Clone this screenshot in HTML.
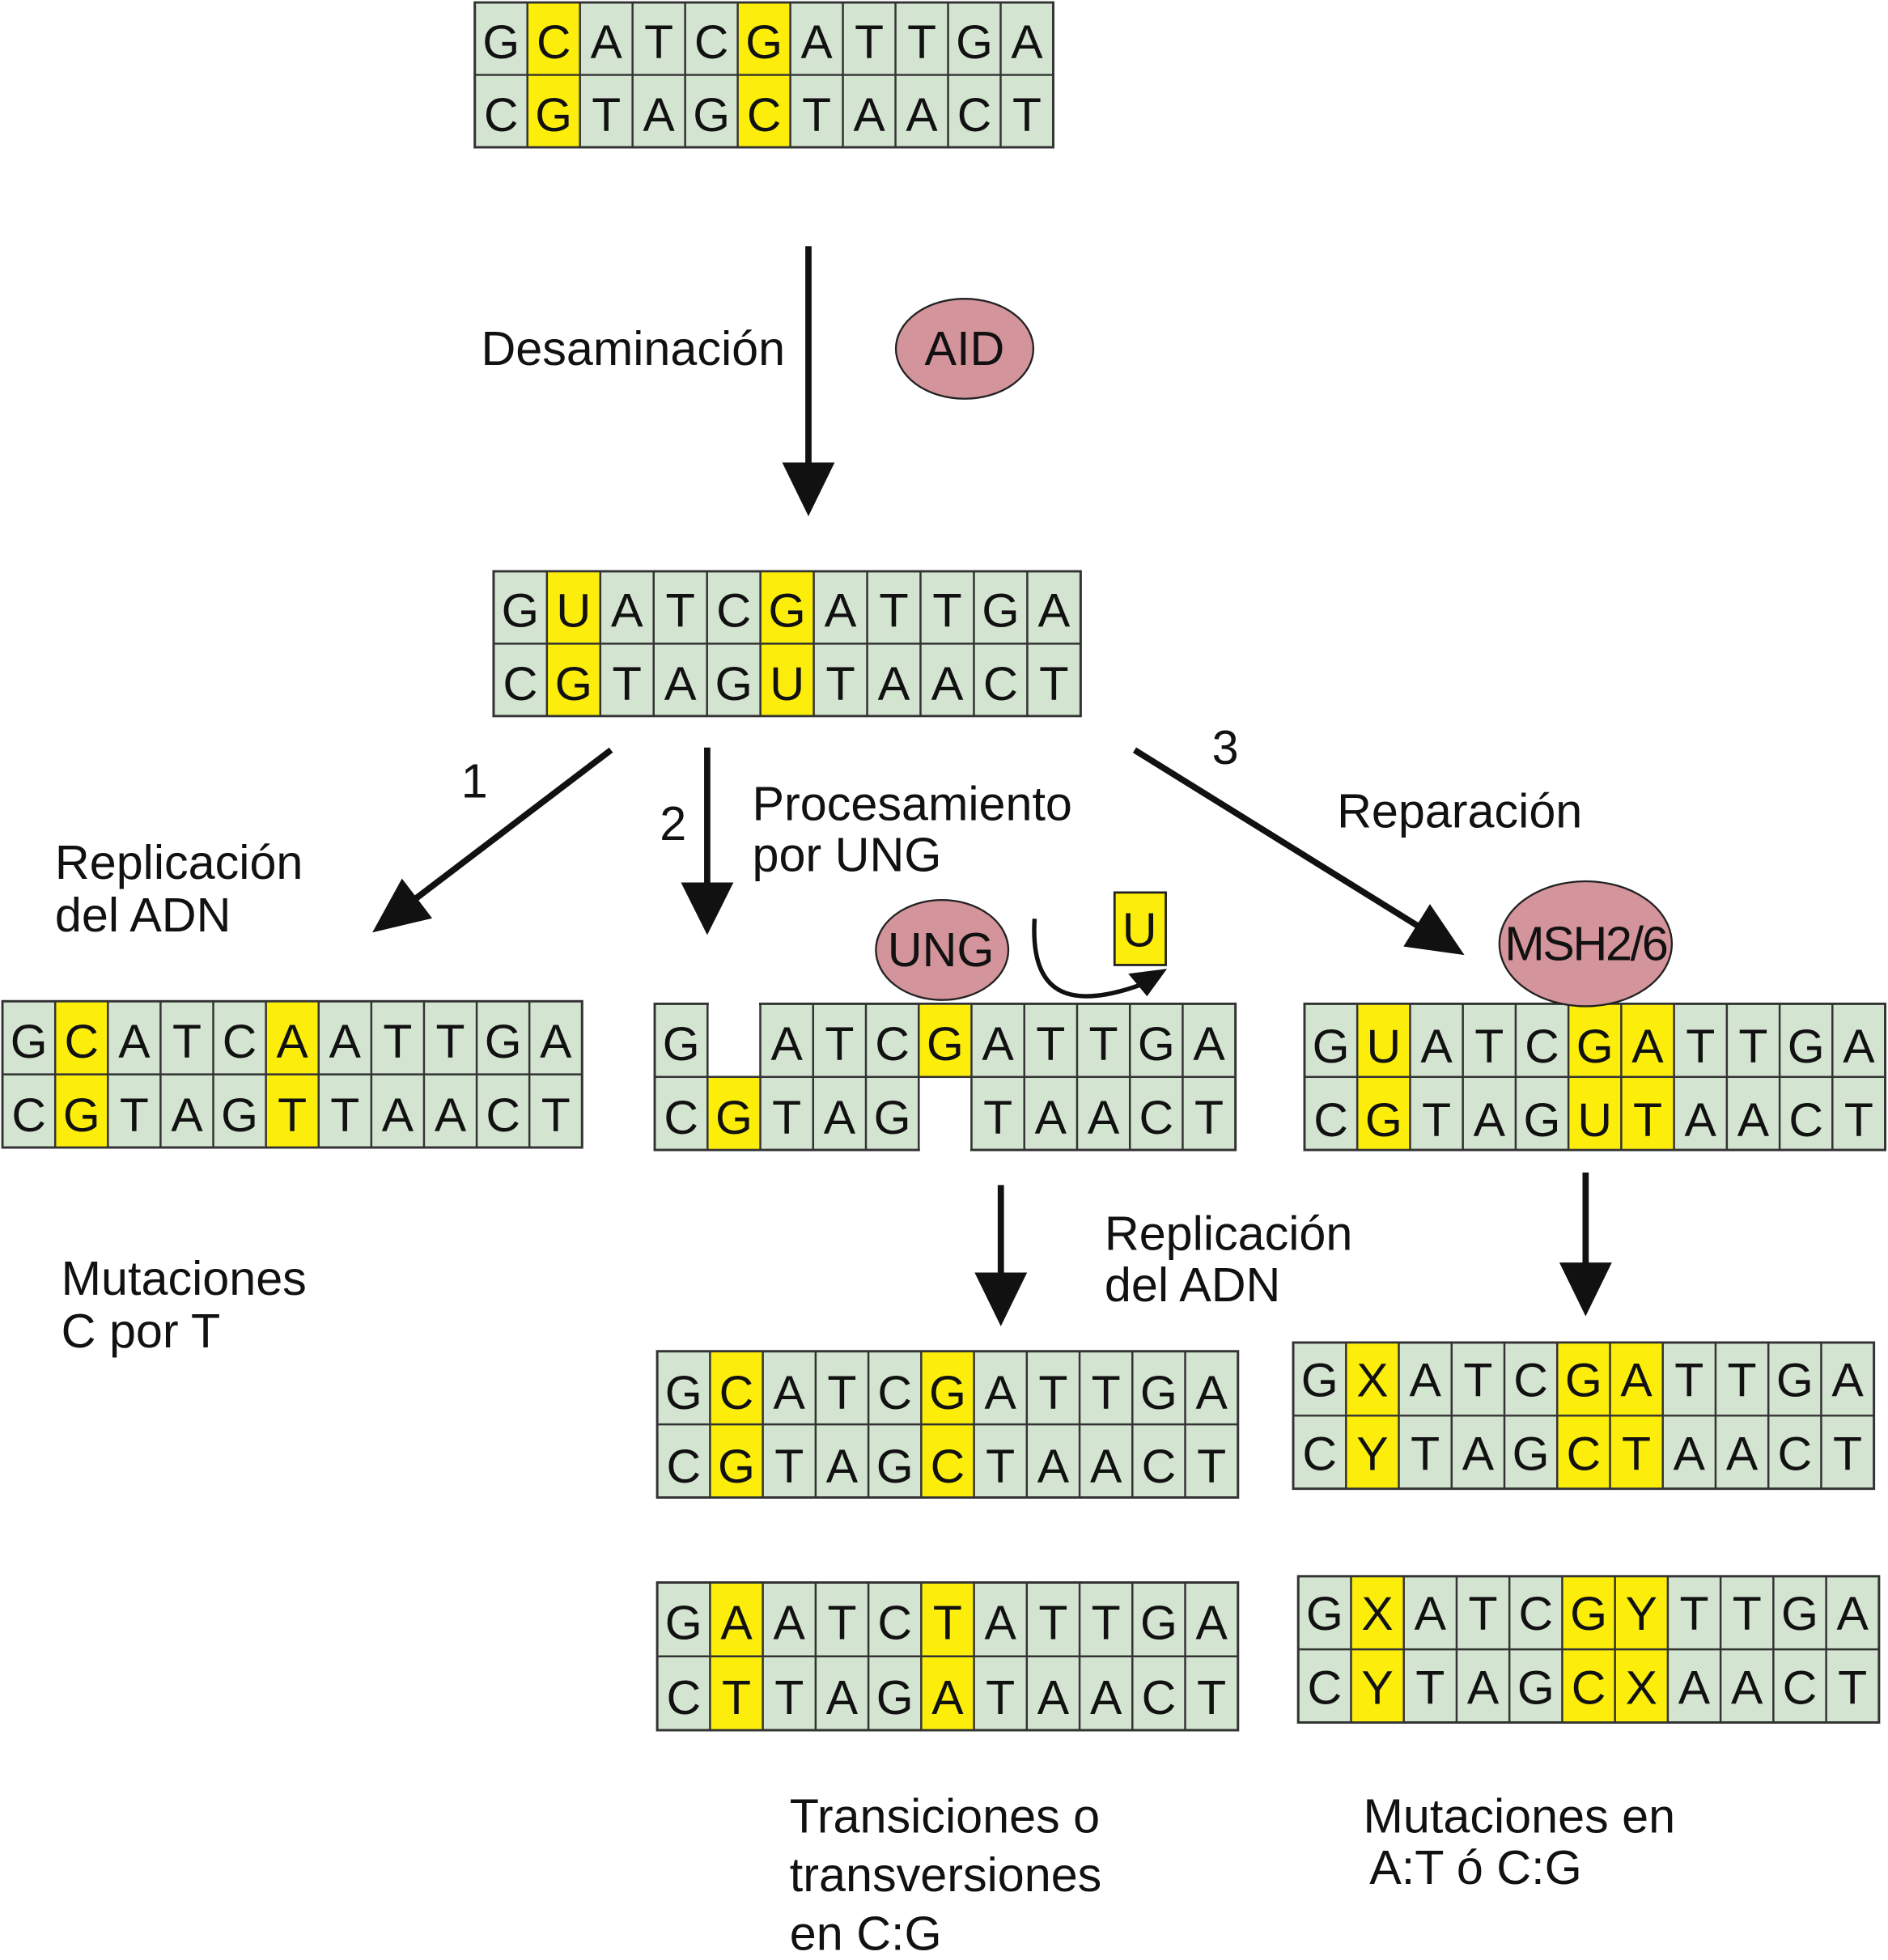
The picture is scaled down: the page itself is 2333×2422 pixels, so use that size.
<!DOCTYPE html>
<html><head><meta charset="utf-8"><style>html,body{margin:0;padding:0;background:#fff}svg{display:block}</style></head>
<body>
<svg width="2333" height="2422" viewBox="0 0 1511 1568" preserveAspectRatio="none" xmlns="http://www.w3.org/2000/svg" font-family="Liberation Sans, Arial, sans-serif">
<defs>
<path id="vl" d="M42 0V117M84 0V117M126 0V117M168 0V117M210 0V117M252 0V117M294 0V117M336 0V117M378 0V117M420 0V117M0 58.5H462" stroke="#333" stroke-width="1.6" fill="none"/>
</defs>
<style>.g{fill:#d3e4d1;stroke:#333;stroke-width:1.8}.y{fill:#fcee0a}.t{font-size:38px;text-anchor:middle;fill:#111}.l{font-size:38.4px;fill:#111}</style>

<!-- G1 -->
<g transform="translate(380,2) scale(1.002,0.99)">
<rect class="g" x="0" y="0" width="462" height="117"/>
<rect class="y" x="42" y="0" width="42" height="117"/><rect class="y" x="210" y="0" width="42" height="117"/>
<use href="#vl"/><rect x="0" y="0" width="462" height="117" fill="none" stroke="#333" stroke-width="1.8"/>
<text class="t" x="21 63 105 147 189 231 273 315 357 399 441" y="45">GCATCGATTGA</text>
<text class="t" x="21 63 105 147 189 231 273 315 357 399 441" y="104">CGTAGCTAACT</text>
</g>
<!-- G2 -->
<g transform="translate(395,457) scale(1.017,0.99)">
<rect class="g" x="0" y="0" width="462" height="117"/>
<rect class="y" x="42" y="0" width="42" height="117"/><rect class="y" x="210" y="0" width="42" height="117"/>
<use href="#vl"/><rect x="0" y="0" width="462" height="117" fill="none" stroke="#333" stroke-width="1.8"/>
<text class="t" x="21 63 105 147 189 231 273 315 357 399 441" y="45">GUATCGATTGA</text>
<text class="t" x="21 63 105 147 189 231 273 315 357 399 441" y="104">CGTAGUTAACT</text>
</g>
<!-- G3 -->
<g transform="translate(2,801) scale(1.004,1)">
<rect class="g" x="0" y="0" width="462" height="117"/>
<rect class="y" x="42" y="0" width="42" height="117"/><rect class="y" x="210" y="0" width="42" height="117"/>
<use href="#vl"/><rect x="0" y="0" width="462" height="117" fill="none" stroke="#333" stroke-width="1.8"/>
<text class="t" x="21 63 105 147 189 231 273 315 357 399 441" y="45">GCATCAATTGA</text>
<text class="t" x="21 63 105 147 189 231 273 315 357 399 441" y="104">CGTAGTTAACT</text>
</g>
<!-- G4 -->
<g transform="translate(524,803) scale(1.006,1)">
<rect class="g" x="0" y="0" width="462" height="117"/>
<rect class="y" x="42" y="58.5" width="42" height="58.5"/><rect class="y" x="210" y="0" width="42" height="58.5"/>
<use href="#vl"/><rect x="0" y="0" width="462" height="117" fill="none" stroke="#333" stroke-width="1.8"/>
<rect x="43" y="-3" width="40" height="60.5" fill="#fff"/>
<rect x="211" y="59.5" width="40" height="60" fill="#fff"/>
<text class="t" x="21 105 147 189 231 273 315 357 399 441" y="45">GATCGATTGA</text>
<text class="t" x="21 63 105 147 189 273 315 357 399 441" y="104">CGTAGTAACT</text>
</g>
<!-- G5 -->
<g transform="translate(1044,803) scale(1.006,1)">
<rect class="g" x="0" y="0" width="462" height="117"/>
<rect class="y" x="42" y="0" width="42" height="117"/><rect class="y" x="210" y="0" width="84" height="117"/>
<use href="#vl"/><rect x="0" y="0" width="462" height="117" fill="none" stroke="#333" stroke-width="1.8"/>
<text class="t" x="21 63 105 147 189 231 273 315 357 399 441" y="47">GUATCGATTGA</text>
<text class="t" x="21 63 105 147 189 231 273 315 357 399 441" y="106">CGTAGUTAACT</text>
</g>
<!-- G6 -->
<g transform="translate(526,1081) scale(1.006,1)">
<rect class="g" x="0" y="0" width="462" height="117"/>
<rect class="y" x="42" y="0" width="42" height="117"/><rect class="y" x="210" y="0" width="42" height="117"/>
<use href="#vl"/><rect x="0" y="0" width="462" height="117" fill="none" stroke="#333" stroke-width="1.8"/>
<text class="t" x="21 63 105 147 189 231 273 315 357 399 441" y="46">GCATCGATTGA</text>
<text class="t" x="21 63 105 147 189 231 273 315 357 399 441" y="105">CGTAGCTAACT</text>
</g>
<!-- G7 -->
<g transform="translate(526,1266) scale(1.006,1.01)">
<rect class="g" x="0" y="0" width="462" height="117"/>
<rect class="y" x="42" y="0" width="42" height="117"/><rect class="y" x="210" y="0" width="42" height="117"/>
<use href="#vl"/><rect x="0" y="0" width="462" height="117" fill="none" stroke="#333" stroke-width="1.8"/>
<text class="t" x="21 63 105 147 189 231 273 315 357 399 441" y="45">GAATCTATTGA</text>
<text class="t" x="21 63 105 147 189 231 273 315 357 399 441" y="104">CTTAGATAACT</text>
</g>
<!-- G8 -->
<g transform="translate(1035,1074) scale(1.006,1)">
<rect class="g" x="0" y="0" width="462" height="117"/>
<rect class="y" x="42" y="0" width="42" height="117"/><rect class="y" x="210" y="0" width="84" height="117"/>
<use href="#vl"/><rect x="0" y="0" width="462" height="117" fill="none" stroke="#333" stroke-width="1.8"/>
<text class="t" x="21 63 105 147 189 231 273 315 357 399 441" y="43">GXATCGATTGA</text>
<text class="t" x="21 63 105 147 189 231 273 315 357 399 441" y="102">CYTAGCTAACT</text>
</g>
<!-- G9 -->
<g transform="translate(1039,1261) scale(1.006,1)">
<rect class="g" x="0" y="0" width="462" height="117"/>
<rect class="y" x="42" y="0" width="42" height="117"/><rect class="y" x="210" y="0" width="84" height="117"/>
<use href="#vl"/><rect x="0" y="0" width="462" height="117" fill="none" stroke="#333" stroke-width="1.8"/>
<text class="t" x="21 63 105 147 189 231 273 315 357 399 441" y="43">GXATCGYTTGA</text>
<text class="t" x="21 63 105 147 189 231 273 315 357 399 441" y="102">CYTAGCXAACT</text>
</g>

<!-- ellipses -->
<ellipse cx="772" cy="279" rx="55" ry="40" fill="#d4949b" stroke="#222" stroke-width="1.5"/>
<text class="l" x="772" y="292" text-anchor="middle">AID</text>
<ellipse cx="754" cy="760" rx="53" ry="40" fill="#d4949b" stroke="#222" stroke-width="1.5"/>
<text class="l" x="753" y="773" text-anchor="middle">UNG</text>
<ellipse cx="1269" cy="755" rx="69" ry="50" fill="#d4949b" stroke="#222" stroke-width="1.5"/>
<text class="l" x="1269" y="768" text-anchor="middle" letter-spacing="-1.5">MSH2/6</text>
<rect x="892" y="714" width="41" height="58" fill="#fcee0a" stroke="#222" stroke-width="1.8"/>
<text class="l" x="912" y="757" text-anchor="middle">U</text>

<!-- arrows -->
<g stroke="#111" stroke-width="5" fill="none">
<path d="M647 197V375"/><path d="M489 600L326 724"/><path d="M566 598V712"/><path d="M908 600L1140 744"/>
<path d="M801 948V1023"/><path d="M1269 938V1015"/>
</g>
<path d="M828 735C824 800 860 808 918 786" stroke="#111" stroke-width="3.5" fill="none"/>
<g fill="#111">
<polygon points="626,370 668,370 647,413"/>
<polygon points="298,746 345.9,734.6 321.7,702.8"/>
<polygon points="545,706 587,706 566,748"/>
<polygon points="1172,764 1123.2,757.2 1144.4,723.2"/>
<polygon points="780,1018 822,1018 801,1061"/>
<polygon points="1248,1010 1290,1010 1269,1053"/>
<polygon points="934,775 903,779 918,797"/>
</g>

<!-- labels -->
<text class="l" x="385" y="292">Desaminación</text>
<text class="l" x="44" y="703">Replicación</text>
<text class="l" x="44" y="745">del ADN</text>
<text class="l" x="369" y="638">1</text>
<text class="l" x="528" y="672">2</text>
<text class="l" x="602" y="656">Procesamiento</text>
<text class="l" x="602" y="697">por UNG</text>
<text class="l" x="970" y="611">3</text>
<text class="l" x="1070" y="662">Reparación</text>
<text class="l" x="49" y="1036">Mutaciones</text>
<text class="l" x="49" y="1078">C por T</text>
<text class="l" x="884" y="1000">Replicación</text>
<text class="l" x="884" y="1041">del ADN</text>
<text class="l" x="632" y="1466">Transiciones o</text>
<text class="l" x="632" y="1513">transversiones</text>
<text class="l" x="632" y="1560">en C:G</text>
<text class="l" x="1091" y="1466">Mutaciones en</text>
<text class="l" x="1096" y="1507">A:T ó C:G</text>
</svg>
</body></html>
